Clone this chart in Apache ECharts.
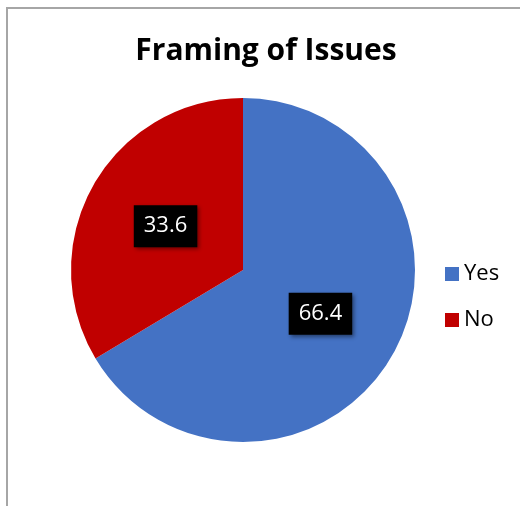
<!DOCTYPE html>
<html>
<head>
    <meta charset="utf-8">
    <title>Framing of Issues</title>
    <script src="https://cdn.jsdelivr.net/npm/echarts@6/dist/echarts.min.js"></script>
    <style>
        html, body { margin: 0; padding: 0; background: #fff; }
    </style>
</head>
<body>
<div id="main" style="width: 520px;height:506px;"></div>

<script type="text/javascript">
    // data
    let categories = ['Yes', 'No']
    let values = [66.4, 33.6]
    let colors = ['#4472C4', '#C00000']

    let pieData = categories.map((name, i) => ({
        name: name,
        value: values[i],
        itemStyle: { color: colors[i] }
    }))

    let myChart = echarts.init(document.getElementById('main'));
    let option = {
        animation: false,
        title: {
            text: 'Framing of Issues',
            left: 261,
            top: 31,
            textAlign: 'center',
            textStyle: {
                fontFamily: 'Open Sans',
                fontWeight: 'bold',
                fontSize: 30,
                color: '#000'
            }
        },
        legend: {
            orient: 'vertical',
            left: 440,
            top: 258,
            itemWidth: 14,
            itemHeight: 14,
            itemGap: 24,
            icon: 'rect',
            textStyle: {
                fontFamily: 'Open Sans',
                fontSize: 22,
                color: '#000'
            },
            data: categories
        },
        // outer chart border
        graphic: [{
            type: 'rect',
            shape: { x: 7, y: 8, width: 530, height: 520 },
            style: { fill: 'none', stroke: '#a6a6a6', lineWidth: 2 },
            silent: true
        }],
        series: [
            {
                type: 'pie',
                center: [243, 270],
                radius: [0, 172],
                startAngle: 90,
                clockwise: true,
                data: pieData,
                label: {
                    show: true,
                    position: 'inside',
                    formatter: '{c}',
                    fontFamily: 'Open Sans',
                    fontSize: 22,
                    color: '#fff',
                    backgroundColor: '#000',
                    padding: [11, 10, 9, 10],
                    shadowColor: 'rgba(0,0,0,0.45)',
                    shadowBlur: 4,
                    shadowOffsetX: 2,
                    shadowOffsetY: 2
                },
                labelLine: { show: false },
                emphasis: { disabled: true }
            }
        ]
    };
    myChart.setOption(option);
</script>
</body>
</html>
